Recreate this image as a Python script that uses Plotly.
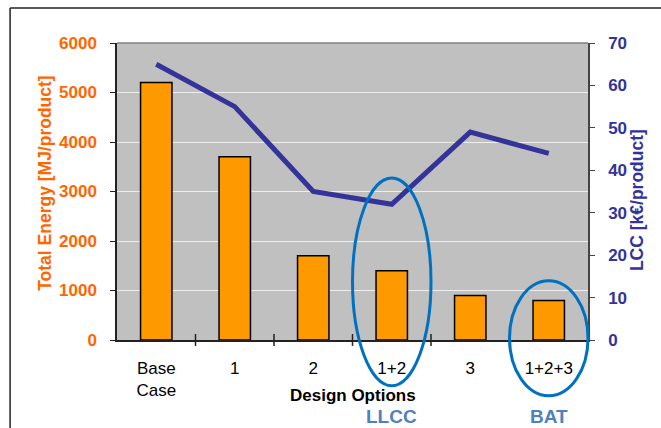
import plotly.graph_objects as go

# Design options and their results
options = ["Base<br>Case", "1", "2", "1+2", "3", "1+2+3"]
total_energy = [5200, 3700, 1700, 1400, 900, 800]   # MJ/product
lcc = [65, 55, 35, 32, 49, 44]                       # k€/product

ORANGE = "#FF6600"
NAVY = "#333399"
HIGHLIGHT = "#0070C0"
LABEL_BLUE = "#4F81BD"
FONT = "Liberation Sans, Arial, sans-serif"

n = len(options)
idx = list(range(n))

fig = go.Figure()

fig.add_trace(go.Bar(
    x=idx, y=total_energy,
    marker=dict(color="#FF9900", line=dict(color="black", width=1.5)),
    width=0.4, yaxis="y", showlegend=False,
))
fig.add_trace(go.Scatter(
    x=idx, y=lcc, mode="lines",
    line=dict(color=NAVY, width=5), yaxis="y2", showlegend=False,
))

fig.update_layout(
    width=661, height=428,
    margin=dict(l=117, r=73, t=43, b=88),
    paper_bgcolor="white", plot_bgcolor="#C0C0C0",
    font=dict(family=FONT),
    xaxis=dict(
        range=[-0.5, n - 0.5], tickmode="array",
        tickvals=idx, ticktext=options,
        showgrid=False, zeroline=False,
        showline=True, linecolor="#222222", linewidth=1.5,
        ticks="", tickfont=dict(size=17, color="black"),
        ticklabelstandoff=12,
    ),
    yaxis=dict(
        range=[0, 6000], dtick=1000,
        showgrid=True, gridcolor="#EEEEEE", gridwidth=1,
        zeroline=False,
        showline=True, linecolor="#222222", linewidth=1.5,
        ticks="outside", ticklen=5, tickcolor="#222222",
        tickfont=dict(size=17, color=ORANGE, weight="bold"),
        ticklabelstandoff=10,
    ),
    yaxis2=dict(
        range=[0, 70], dtick=10, overlaying="y", side="right",
        showgrid=False, zeroline=False,
        showline=True, linecolor="#444444", linewidth=1.5,
        ticks="outside", ticklen=5, tickcolor="#444444",
        tickfont=dict(size=17, color=NAVY, weight="bold"),
        ticklabelstandoff=10,
    ),
)

# axis titles
fig.add_annotation(text="<b>Total Energy [MJ/product]</b>", textangle=-90,
                   xref="paper", yref="paper", x=-0.153, y=0.529,
                   xanchor="center", yanchor="middle", showarrow=False,
                   font=dict(size=17.5, color=ORANGE))
fig.add_annotation(text="<b>LCC [k€/product]</b>", textangle=-90,
                   xref="paper", yref="paper", x=1.104, y=0.471,
                   xanchor="center", yanchor="middle", showarrow=False,
                   font=dict(size=17.5, color=NAVY))

# category boundary ticks on the x axis
for i in range(1, n):
    fig.add_shape(type="line", xref="paper", yref="paper", x0=i / n, x1=i / n,
                  y0=-0.02, y1=0.02, line=dict(color="#222222", width=1.5))

# top border of the plotting area
fig.add_shape(type="line", xref="paper", yref="paper", x0=0, x1=1, y0=1, y1=1,
              line=dict(color="#808080", width=1.5))

# outer frame (top and left edges)
fig.add_shape(type="line", xref="paper", yref="paper",
              x0=-0.227, x1=1.2, y0=1.118, y1=1.118,
              line=dict(color="#222222", width=1.5))
fig.add_shape(type="line", xref="paper", yref="paper",
              x0=-0.227, x1=-0.227, y0=1.118, y1=-0.35,
              line=dict(color="#222222", width=1.5))

# highlighted options: 1+2 (LLCC) and 1+2+3 (BAT)
llcc_i, bat_i = options.index("1+2"), options.index("1+2+3")
fig.add_shape(type="circle", xref="paper", yref="paper",
              x0=llcc_i / n, x1=(llcc_i + 1) / n, y0=-0.154, y1=0.5455,
              line=dict(color=HIGHLIGHT, width=3))
fig.add_shape(type="circle", xref="paper", yref="paper",
              x0=bat_i / n, x1=(bat_i + 1) / n, y0=-0.1876, y1=0.1997,
              line=dict(color=HIGHLIGHT, width=3))

fig.add_annotation(text="<b>Design Options</b>", xref="paper", yref="paper",
                   x=0.5, y=-0.186, yanchor="middle", showarrow=False,
                   font=dict(size=17, color="black"))
fig.add_annotation(text="<b>LLCC</b>", xref="x", yref="paper",
                   x=llcc_i, y=-0.258, yanchor="middle", showarrow=False,
                   font=dict(size=19, color=LABEL_BLUE))
fig.add_annotation(text="<b>BAT</b>", xref="x", yref="paper",
                   x=bat_i, y=-0.258, yanchor="middle", showarrow=False,
                   font=dict(size=19, color=LABEL_BLUE))

fig.write_html("out.html")
